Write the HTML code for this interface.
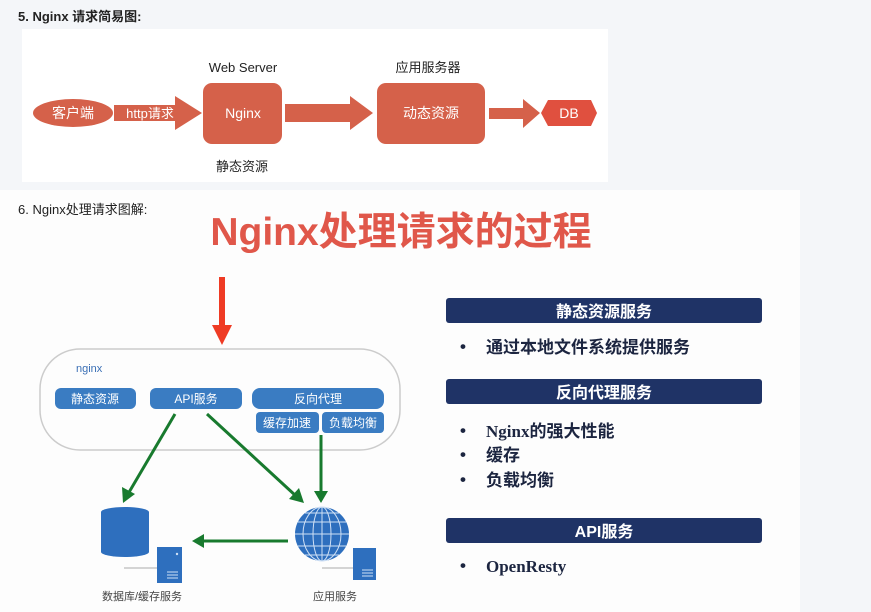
<!DOCTYPE html>
<html><head><meta charset="utf-8"><style>
body{margin:0;width:871px;height:612px;background:#f4f6f9;position:relative;overflow:hidden;font-family:"Liberation Sans","Noto Sans CJK SC",sans-serif;}
.a{position:absolute;}
</style></head><body>
<div class="a" style="left:18px;top:6px;font-size:13px;font-weight:bold;color:#222">5. Nginx 请求简易图:</div>
<div class="a" style="left:22px;top:29px;width:586px;height:153px;background:#fff"></div>
<div class="a" style="left:0;top:190px;width:800px;height:422px;background:#fdfdfd"></div>
<svg class="a" style="left:0;top:0" width="871" height="612" font-family="Liberation Sans,Noto Sans CJK SC,sans-serif">
<g fill="#d5614a">
<ellipse cx="73" cy="113" rx="40" ry="14"/>
<polygon points="114,105 175,105 175,96 202,113 175,130 175,121 114,121"/>
<rect x="203" y="83" width="79" height="61" rx="9"/>
<polygon points="285,104 350,104 350,96 373,113 350,130 350,122 285,122"/>
<rect x="377" y="83" width="108" height="61" rx="9"/>
<polygon points="489,108 523,108 523,99 540,113 523,128 523,119 489,119"/>
</g>
<polygon points="548,100 591,100 597,113 591,126 548,126 541,113" fill="#e0503f"/>
<g fill="#fff" font-size="14" text-anchor="middle">
<text x="73" y="118">客户端</text>
<text x="150" y="118" font-size="13">http请求</text>
<text x="243" y="118">Nginx</text>
<text x="431" y="118">动态资源</text>
<text x="569" y="118">DB</text>
</g>
<g fill="#222" font-size="13" text-anchor="middle">
<text x="243" y="72">Web Server</text>
<text x="428" y="72">应用服务器</text>
<text x="242" y="171">静态资源</text>
</g>
<text x="18" y="214" font-size="13" fill="#222">6. Nginx处理请求图解:</text>
<text x="401" y="245" font-size="39" font-weight="bold" fill="#e0574a" text-anchor="middle">Nginx处理请求的过程</text>
<rect x="219" y="277" width="6" height="50" fill="#ef3b24"/>
<polygon points="212,325 232,325 222,345" fill="#ef3b24"/>
<rect x="40" y="349" width="360" height="101" rx="40" fill="none" stroke="#ccc" stroke-width="1.5"/>
<text x="76" y="372" font-size="11" fill="#3a6fb5">nginx</text>
<g fill="#3a7cc2">
<rect x="55" y="388" width="81" height="21" rx="6"/>
<rect x="150" y="388" width="92" height="21" rx="6"/>
<rect x="252" y="388" width="132" height="21" rx="8"/>
<rect x="256" y="412" width="63" height="21" rx="4"/>
<rect x="322" y="412" width="62" height="21" rx="4"/>
</g>
<g fill="#fff" font-size="12" text-anchor="middle">
<text x="95" y="403">静态资源</text>
<text x="196" y="403">API服务</text>
<text x="318" y="403">反向代理</text>
<text x="287" y="427">缓存加速</text>
<text x="353" y="427">负载均衡</text>
</g>
<g stroke="#187a2e" stroke-width="3" fill="#187a2e">
<line x1="175" y1="414" x2="128" y2="494"/>
<line x1="207" y1="414" x2="296" y2="496"/>
<line x1="321" y1="435" x2="321" y2="493"/>
<line x1="288" y1="541" x2="203" y2="541"/>
</g>
<g fill="#187a2e">
<polygon points="123,503 122,487 135,494"/>
<polygon points="304,503 289,499 299,488"/>
<polygon points="321,503 314,491 328,491"/>
<polygon points="192,541 204,534 204,548"/>
</g>
<path d="M101,512 a24,5 0 0 1 48,0 v40 a24,5 0 0 1 -48,0 z" fill="#2e6fbe"/>
<rect x="157" y="547" width="25" height="36" fill="#2e6fbe"/>
<line x1="124" y1="568" x2="157" y2="568" stroke="#aaa"/>
<g stroke="#cfe0f5" stroke-width="1"><line x1="167" y1="572" x2="178" y2="572"/><line x1="167" y1="575" x2="178" y2="575"/><line x1="167" y1="578" x2="178" y2="578"/></g>
<circle cx="177" cy="554" r="1.2" fill="#cfe0f5"/>
<circle cx="322" cy="534" r="27" fill="#2e6fbe"/>
<g stroke="#cfe0f5" stroke-width="1" fill="none">
<ellipse cx="322" cy="534" rx="9" ry="27"/><ellipse cx="322" cy="534" rx="19" ry="27"/>
<line x1="322" y1="507" x2="322" y2="561"/><line x1="295" y1="534" x2="349" y2="534"/>
<line x1="298" y1="522" x2="346" y2="522"/><line x1="298" y1="546" x2="346" y2="546"/>
<line x1="305" y1="513" x2="339" y2="513"/><line x1="305" y1="555" x2="339" y2="555"/>
</g>
<rect x="353" y="548" width="23" height="32" fill="#2e6fbe"/>
<line x1="322" y1="568" x2="353" y2="568" stroke="#aaa"/>
<g stroke="#cfe0f5" stroke-width="1"><line x1="362" y1="570" x2="373" y2="570"/><line x1="362" y1="573" x2="373" y2="573"/><line x1="362" y1="576" x2="373" y2="576"/></g>
<g fill="#444" font-size="11" text-anchor="middle">
<text x="142" y="600">数据库/缓存服务</text>
<text x="335" y="600">应用服务</text>
</g>
<g fill="#1f3366">
<rect x="446" y="298" width="316" height="25" rx="3"/>
<rect x="446" y="379" width="316" height="25" rx="3"/>
<rect x="446" y="518" width="316" height="25" rx="3"/>
</g>
<g fill="#fff" font-size="16" font-weight="bold" text-anchor="middle">
<text x="604" y="317">静态资源服务</text>
<text x="604" y="398">反向代理服务</text>
<text x="604" y="537">API服务</text>
</g>
<g fill="#1c2540" font-size="17" font-weight="bold">
<text x="460" y="352">•</text><text x="486" y="353">通过本地文件系统提供服务</text>
<text x="460" y="436">•</text><text x="486" y="437" font-family="Liberation Serif,Noto Sans CJK SC,serif">Nginx的强大性能</text>
<text x="460" y="460">•</text><text x="486" y="461">缓存</text>
<text x="460" y="485">•</text><text x="486" y="486">负载均衡</text>
<text x="460" y="571">•</text><text x="486" y="572" font-family="Liberation Serif,serif">OpenResty</text>
</g>
</svg>
</body></html>
